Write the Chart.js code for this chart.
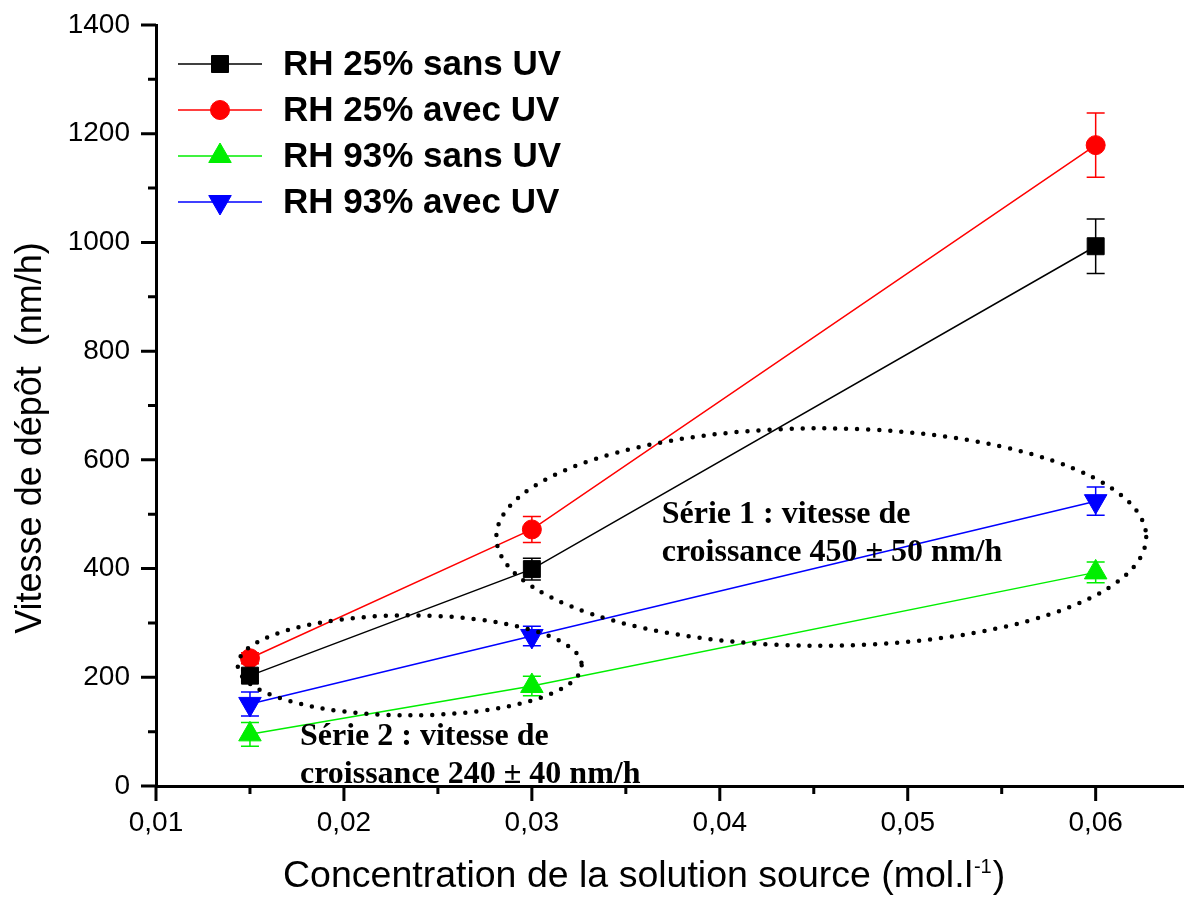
<!DOCTYPE html>
<html>
<head>
<meta charset="utf-8">
<script src="https://cdn.jsdelivr.net/npm/chart.js@4.4.1/dist/chart.umd.min.js"></script>
<style>
html, body { margin: 0; padding: 0; background: #fff; overflow: hidden; }
canvas { display: block; }
</style>
</head>
<body>
<canvas id="chart" width="1184" height="914"></canvas>
<script>
// values
const concentrations = [0.015, 0.03, 0.06];
const rh25SansUV = [203, 399, 993];
const rh25AvecUV = [235, 472, 1179];
const rh93SansUV = [95, 184, 393];
const rh93AvecUV = [151, 276, 524];
const err25SansUV = [10, 20, 50];
const err25AvecUV = [10, 24, 59];
const err93SansUV = [22, 18, 19];
const err93AvecUV = [22, 18, 26];

const xTicks = [0.01, 0.02, 0.03, 0.04, 0.05, 0.06];
const xMinorTicks = [0.015, 0.025, 0.035, 0.045, 0.055];
const yTicks = [0, 200, 400, 600, 800, 1000, 1200, 1400];
const yMinorTicks = [100, 300, 500, 700, 900, 1100, 1300];

const seriesNames = ['RH 25% sans UV', 'RH 25% avec UV', 'RH 93% sans UV', 'RH 93% avec UV'];
const xTitle = 'Concentration de la solution source (mol.l';
const yTitle = 'Vitesse de dépôt  (nm/h)';

// dotted groups, in data units
const groups = [
    { cx: 0.0454, cy: 458, rx: 0.01729, ry: 200, x: 0.03691, y: 484,
      lines: ['Série 1 : vitesse de', 'croissance 450 \u00b1 50 nm/h'] },
    { cx: 0.0235, cy: 222, rx: 0.00915, ry: 92, x: 0.01766, y: 75,
      lines: ['Série 2 : vitesse de', 'croissance 240 \u00b1 40 nm/h'] }
];

const points = vals => concentrations.map((c, i) => ({ x: c, y: vals[i] }));

function makeSet(label, vals, errs, color, style, radius, rotation) {
    return {
        label: label,
        data: points(vals),
        errors: errs,
        borderColor: color,
        backgroundColor: color,
        borderWidth: 1.5,
        pointStyle: style,
        pointRadius: radius,
        pointHoverRadius: radius,
        pointRotation: rotation,
        pointBorderWidth: 1,
        tension: 0
    };
}

const sans = 'Arial, "Liberation Sans", sans-serif';
const serif = '"Times New Roman", "Liberation Serif", serif';

const decorations = {
    id: 'decorations',
    beforeDatasetsDraw(chart) {
        const ctx = chart.ctx;
        const xs = chart.scales.x, ys = chart.scales.y;
        chart.data.datasets.forEach(ds => {
            ctx.save();
            ctx.strokeStyle = ds.borderColor;
            ctx.lineWidth = 1.5;
            ds.data.forEach((p, i) => {
                const px = xs.getPixelForValue(p.x);
                const top = ys.getPixelForValue(p.y + ds.errors[i]);
                const bot = ys.getPixelForValue(p.y - ds.errors[i]);
                ctx.beginPath();
                ctx.moveTo(px, top); ctx.lineTo(px, bot);
                ctx.moveTo(px - 9, top); ctx.lineTo(px + 9, top);
                ctx.moveTo(px - 9, bot); ctx.lineTo(px + 9, bot);
                ctx.stroke();
            });
            ctx.restore();
        });
    },
    afterDraw(chart) {
        const ctx = chart.ctx;
        const xs = chart.scales.x, ys = chart.scales.y;
        const area = chart.chartArea;
        ctx.save();

        // tick marks
        ctx.strokeStyle = '#000';
        ctx.lineWidth = 3;
        ctx.beginPath();
        xTicks.forEach(v => {
            const px = xs.getPixelForValue(v);
            ctx.moveTo(px, area.bottom); ctx.lineTo(px, area.bottom + 15);
        });
        xMinorTicks.forEach(v => {
            const px = xs.getPixelForValue(v);
            ctx.moveTo(px, area.bottom); ctx.lineTo(px, area.bottom + 8);
        });
        yTicks.forEach(v => {
            const py = ys.getPixelForValue(v);
            ctx.moveTo(area.left, py); ctx.lineTo(area.left - 15, py);
        });
        yMinorTicks.forEach(v => {
            const py = ys.getPixelForValue(v);
            ctx.moveTo(area.left, py); ctx.lineTo(area.left - 8, py);
        });
        ctx.stroke();

        // dotted ellipses and their notes
        groups.forEach(g => {
            const cx = xs.getPixelForValue(g.cx);
            const cy = ys.getPixelForValue(g.cy);
            const rx = xs.getPixelForValue(g.cx + g.rx) - cx;
            const ry = cy - ys.getPixelForValue(g.cy + g.ry);
            ctx.save();
            ctx.setLineDash([0, 11]);
            ctx.lineCap = 'round';
            ctx.lineWidth = 4.5;
            ctx.beginPath();
            ctx.ellipse(cx, cy, rx, ry, 0, 0, Math.PI * 2);
            ctx.stroke();
            ctx.restore();

            ctx.fillStyle = '#000';
            ctx.font = 'bold 32px ' + serif;
            ctx.textAlign = 'left';
            ctx.textBaseline = 'alphabetic';
            const tx = xs.getPixelForValue(g.x);
            const ty = ys.getPixelForValue(g.y);
            g.lines.forEach((line, i) => ctx.fillText(line, tx, ty + i * 38));
        });

        // legend
        chart.data.datasets.forEach((ds, i) => {
            const ly = 64 + i * 46;
            ctx.strokeStyle = ds.borderColor;
            ctx.fillStyle = ds.backgroundColor;
            ctx.lineWidth = 1.5;
            ctx.beginPath();
            ctx.moveTo(178, ly); ctx.lineTo(262, ly);
            ctx.stroke();
            ctx.lineWidth = 1;
            Chart.helpers.drawPoint(ctx, {
                pointStyle: ds.pointStyle, radius: ds.pointRadius,
                rotation: ds.pointRotation, borderWidth: 1
            }, 220, ly);
            ctx.fillStyle = '#000';
            ctx.font = 'bold 35px ' + sans;
            ctx.textAlign = 'left';
            ctx.textBaseline = 'middle';
            ctx.fillText(ds.label, 283, ly + 1);
        });

        // axis titles
        ctx.fillStyle = '#000';
        ctx.font = '37.5px ' + sans;
        ctx.textAlign = 'left';
        ctx.textBaseline = 'alphabetic';
        ctx.fillText(xTitle, 283, 887);
        const w = ctx.measureText(xTitle).width;
        ctx.font = '20px ' + sans;
        ctx.fillText('-1', 283 + w + 1, 873);
        const sw = ctx.measureText('-1').width;
        ctx.font = '37.5px ' + sans;
        ctx.fillText(')', 283 + w + sw + 2, 887);

        ctx.font = '36px ' + sans;
        ctx.save();
        ctx.translate(41, 438);
        ctx.rotate(-Math.PI / 2);
        ctx.textAlign = 'center';
        ctx.fillText(yTitle, 0, 0);
        ctx.restore();

        ctx.restore();
    }
};

new Chart(document.querySelector('#chart').getContext('2d'), {
    type: 'line',
    data: {
        datasets: [
            makeSet(seriesNames[0], rh25SansUV, err25SansUV, '#000000', 'rect', 12, 0),
            makeSet(seriesNames[1], rh25AvecUV, err25AvecUV, '#ff0000', 'circle', 9.5, 0),
            makeSet(seriesNames[2], rh93SansUV, err93SansUV, '#00ee00', 'triangle', 13, 0),
            makeSet(seriesNames[3], rh93AvecUV, err93AvecUV, '#0000ff', 'triangle', 13, 180)
        ]
    },
    options: {
        responsive: false,
        animation: false,
        layout: { autoPadding: false, padding: { top: 25, right: 0, left: 0, bottom: 0 } },
        plugins: { legend: { display: false }, tooltip: { enabled: false } },
        scales: {
            x: {
                type: 'linear',
                min: 0.01,
                max: 0.0647,
                afterFit: s => {
                    s.height = 128;
                    s.paddingLeft = 0;
                    s.paddingRight = 0;
                },
                afterBuildTicks: s => { s.ticks = xTicks.map(v => ({ value: v })); },
                grid: { display: false, drawTicks: false },
                border: { display: true, color: '#000', width: 3 },
                ticks: {
                    color: '#000',
                    padding: 20,
                    maxRotation: 0,
                    font: { family: sans, size: 28 },
                    callback: v => v.toFixed(2).replace('.', ',')
                }
            },
            y: {
                min: 0,
                max: 1400,
                afterFit: s => {
                    s.width = 156;
                    s.paddingTop = 0;
                    s.paddingBottom = 0;
                },
                afterBuildTicks: s => { s.ticks = yTicks.map(v => ({ value: v })); },
                grid: { display: false, drawTicks: false },
                border: { display: true, color: '#000', width: 3 },
                ticks: {
                    color: '#000',
                    padding: 26,
                    font: { family: sans, size: 28 },
                    callback: v => String(v)
                }
            }
        }
    },
    plugins: [decorations]
});
</script>
</body>
</html>
